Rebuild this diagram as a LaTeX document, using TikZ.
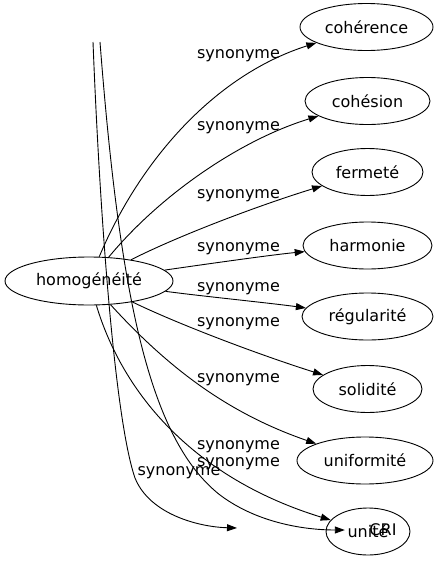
\documentclass[tikz,border=0pt]{standalone}
\usepackage{fontspec}
\setmainfont{DejaVu Sans}
\usepackage{tikz}
\usetikzlibrary{shapes,positioning,calc}
\usetikzlibrary{arrows.meta,shapes.geometric}

\begin{document}
\begin{tikzpicture}[
x=1pt, y=-1pt,
word/.style={ellipse, draw=black, line width=0.9pt, inner sep=1pt, minimum height=47pt, font=\fontsize{16}{19}\selectfont},
ghost/.style={ellipse, inner sep=1pt, minimum width=76pt, minimum height=20pt, font=\fontsize{16}{19}\selectfont},
lbl/.style={inner sep=0pt, font=\fontsize{16}{19}\selectfont},
syn/.style={line width=0.9pt, -{Triangle[length=10pt,width=7pt]}}
]
\useasboundingbox (0,0) rectangle (443,563);
% nodes
\node[word, minimum width=168pt, minimum height=48pt] (homog) at (89,281) {homogénéité};
\node[word, minimum width=133pt] (coherence) at (366.5,27) {cohérence};
\node[word, minimum width=125pt] (cohesion) at (367.5,101) {cohésion};
\node[word, minimum width=111pt] (fermete) at (367.5,172) {fermeté};
\node[word, minimum width=129pt] (harmonie) at (367.5,245.5) {harmonie};
\node[word, minimum width=131pt] (regularite) at (367.5,316.5) {régularité};
\node[word, minimum width=109pt] (solidite) at (367.5,389) {solidité};
\node[word, minimum width=136pt] (uniformite) at (365,460.5) {uniformité};
\node[word, minimum width=84pt] (unite) at (368,531.5) {unité};
\node[ghost] (CRI) at (383,530) {CRI};
\coordinate (topA) at (93,42);
\coordinate (topB) at (100,42);
\coordinate (endA) at (237,528);
% edges
\draw[syn] (homog) .. controls (140,160) and (215,75) .. (coherence);
\draw[syn] (homog) .. controls (160,195) and (240,140) .. (cohesion);
\draw[syn] (homog) .. controls (180,235) and (260,205) .. (fermete);
\draw[syn] (homog) .. controls (200,265) and (270,255) .. (harmonie);
\draw[syn] (homog) .. controls (200,296) and (270,303) .. (regularite);
\draw[syn] (homog) .. controls (180,325) and (260,355) .. (solidite);
\draw[syn] (homog) .. controls (170,370) and (230,414) .. (uniformite);
\draw[syn] (homog) .. controls (125,400) and (200,480) .. (unite);
\draw[syn] (topB) .. controls (120,300) and (150,440) .. (220,495)
  .. controls (260,525) and (310,530) .. (CRI);
\draw[syn] (topA) .. controls (100,220) and (115,420) .. (135,478)
  .. controls (150,515) and (200,527) .. (endA);
% edge labels
\node[lbl] (l1) at (238.5,56) {synonyme};
\node[lbl] (l2) at (238.5,127.5) {synonyme};
\node[lbl] (l3) at (238.5,196) {synonyme};
\node[lbl] (l4) at (238.5,249) {synonyme};
\node[lbl] (l5) at (238.5,289) {synonyme};
\node[lbl] (l6) at (238.5,324) {synonyme};
\node[lbl] (l7) at (238.5,379.5) {synonyme};
\node[lbl] (l8) at (238.5,447) {synonyme};
\node[lbl] (l9) at (238.5,464) {synonyme};
\node[lbl] (l10) at (179,472.5) {synonyme};
\end{tikzpicture}
\end{document}
